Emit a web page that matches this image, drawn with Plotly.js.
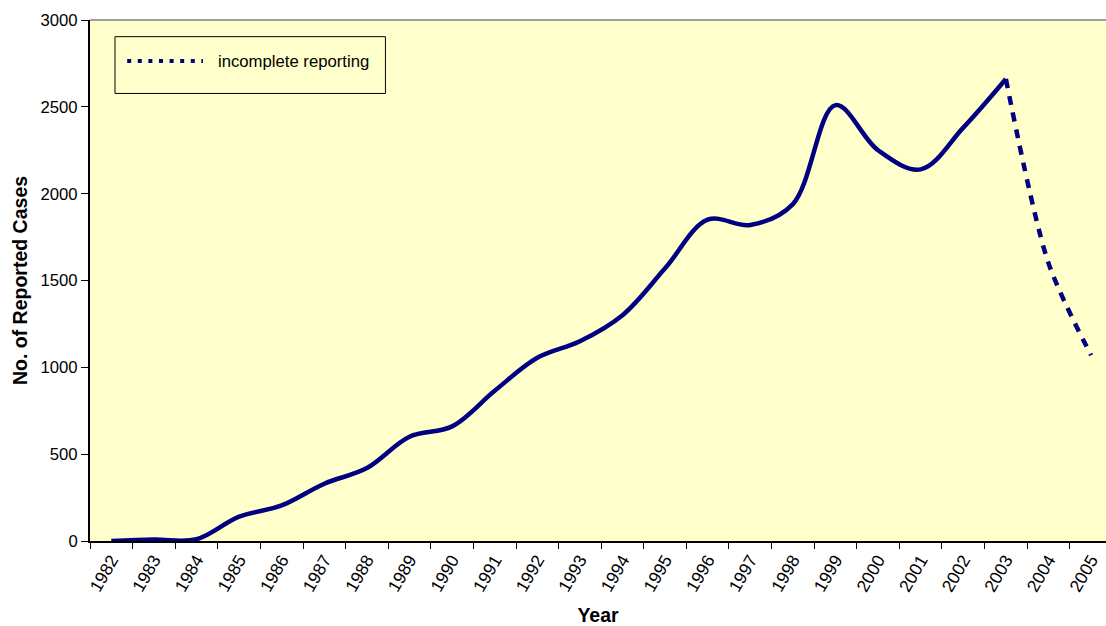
<!DOCTYPE html>
<html>
<head>
<meta charset="utf-8">
<script src="https://cdn.plot.ly/plotly-3.0.1.min.js"></script>
<style>html,body{margin:0;padding:0;background:#fff;}#chart{width:1106px;height:626px;}</style>
</head>
<body>
<div id="chart"></div>
<script>
const years = ['1982','1983','1984','1985','1986','1987','1988','1989','1990','1991','1992','1993','1994','1995','1996','1997','1998','1999','2000','2001','2002','2003','2004','2005'];
const reportedYears = years.slice(0, 22);
const reportedCases = [0, 8, 10, 140, 205, 330, 420, 600, 660, 865, 1055, 1150, 1300, 1570, 1850, 1820, 1940, 2510, 2250, 2140, 2380, 2660];
const incompleteYears = ['2003','2004','2005'];
const incompleteCases = [2660, 1600, 1070];
const legendLabel = 'incomplete reporting';

const navy = '#000080';
const FONT = 'Arial, "Liberation Sans", sans-serif';
const traces = [
  {x: reportedYears, y: reportedCases, type: 'scatter', mode: 'lines',
   line: {color: navy, width: 4.5, shape: 'spline', smoothing: 1}, showlegend: false},
  {x: incompleteYears, y: incompleteCases, type: 'scatter', mode: 'lines',
   line: {color: navy, width: 4.5, shape: 'spline', smoothing: 0.8, dash: '9px,8px'}, name: legendLabel, showlegend: false}
];

const layout = {
  width: 1106, height: 626,
  margin: {l: 90, r: 0, t: 20, b: 85},
  paper_bgcolor: '#ffffff',
  plot_bgcolor: '#FFFFCC',
  font: {family: FONT, color: '#000'},
  xaxis: {
    type: 'category', categoryorder: 'array', categoryarray: years,
    range: [-0.5, 23.35], tickson: 'boundaries',
    ticks: 'outside', ticklen: 6, tickcolor: '#000', tickwidth: 1,
    tickangle: -60, tickfont: {size: 17.5, family: FONT},
    showline: true, linecolor: '#000', linewidth: 2, showgrid: false, zeroline: false,
    title: {text: 'Year', font: {size: 19.5, family: FONT, weight: 'bold'}, standoff: 17}
  },
  yaxis: {
    range: [0, 3000], tickvals: [0, 500, 1000, 1500, 2000, 2500, 3000],
    ticks: 'outside', ticklen: 7, tickcolor: '#000', tickwidth: 1,
    tickfont: {size: 16.7, family: FONT},
    showline: true, linecolor: '#000', linewidth: 2, showgrid: false, zeroline: false,
    title: {text: 'No. of Reported Cases', font: {size: 19.5, family: FONT, weight: 'bold'}, standoff: 8}
  },
  shapes: [
    {type: 'line', xref: 'paper', yref: 'paper', x0: 0, x1: 1, y0: 1, y1: 1, line: {color: '#808080', width: 1.5}},
    {type: 'rect', xref: 'paper', yref: 'paper', x0: 0.0246, x1: 0.2908, y0: 0.859, y1: 0.968,
     line: {color: '#000', width: 1}, fillcolor: 'rgba(0,0,0,0)'},
    {type: 'line', xref: 'paper', yref: 'paper', x0: 0.0366, x1: 0.1112, y0: 0.9213, y1: 0.9213,
     line: {color: navy, width: 4, dash: '4px,6.6px'}}
  ],
  annotations: [
    {xref: 'paper', yref: 'paper', x: 0.124, y: 0.9213, xanchor: 'left', yanchor: 'middle',
     text: legendLabel, showarrow: false, font: {size: 16.7, family: FONT, color: '#000'}}
  ]
};

Plotly.newPlot('chart', traces, layout, {displayModeBar: false, staticPlot: true});
</script>
</body>
</html>
